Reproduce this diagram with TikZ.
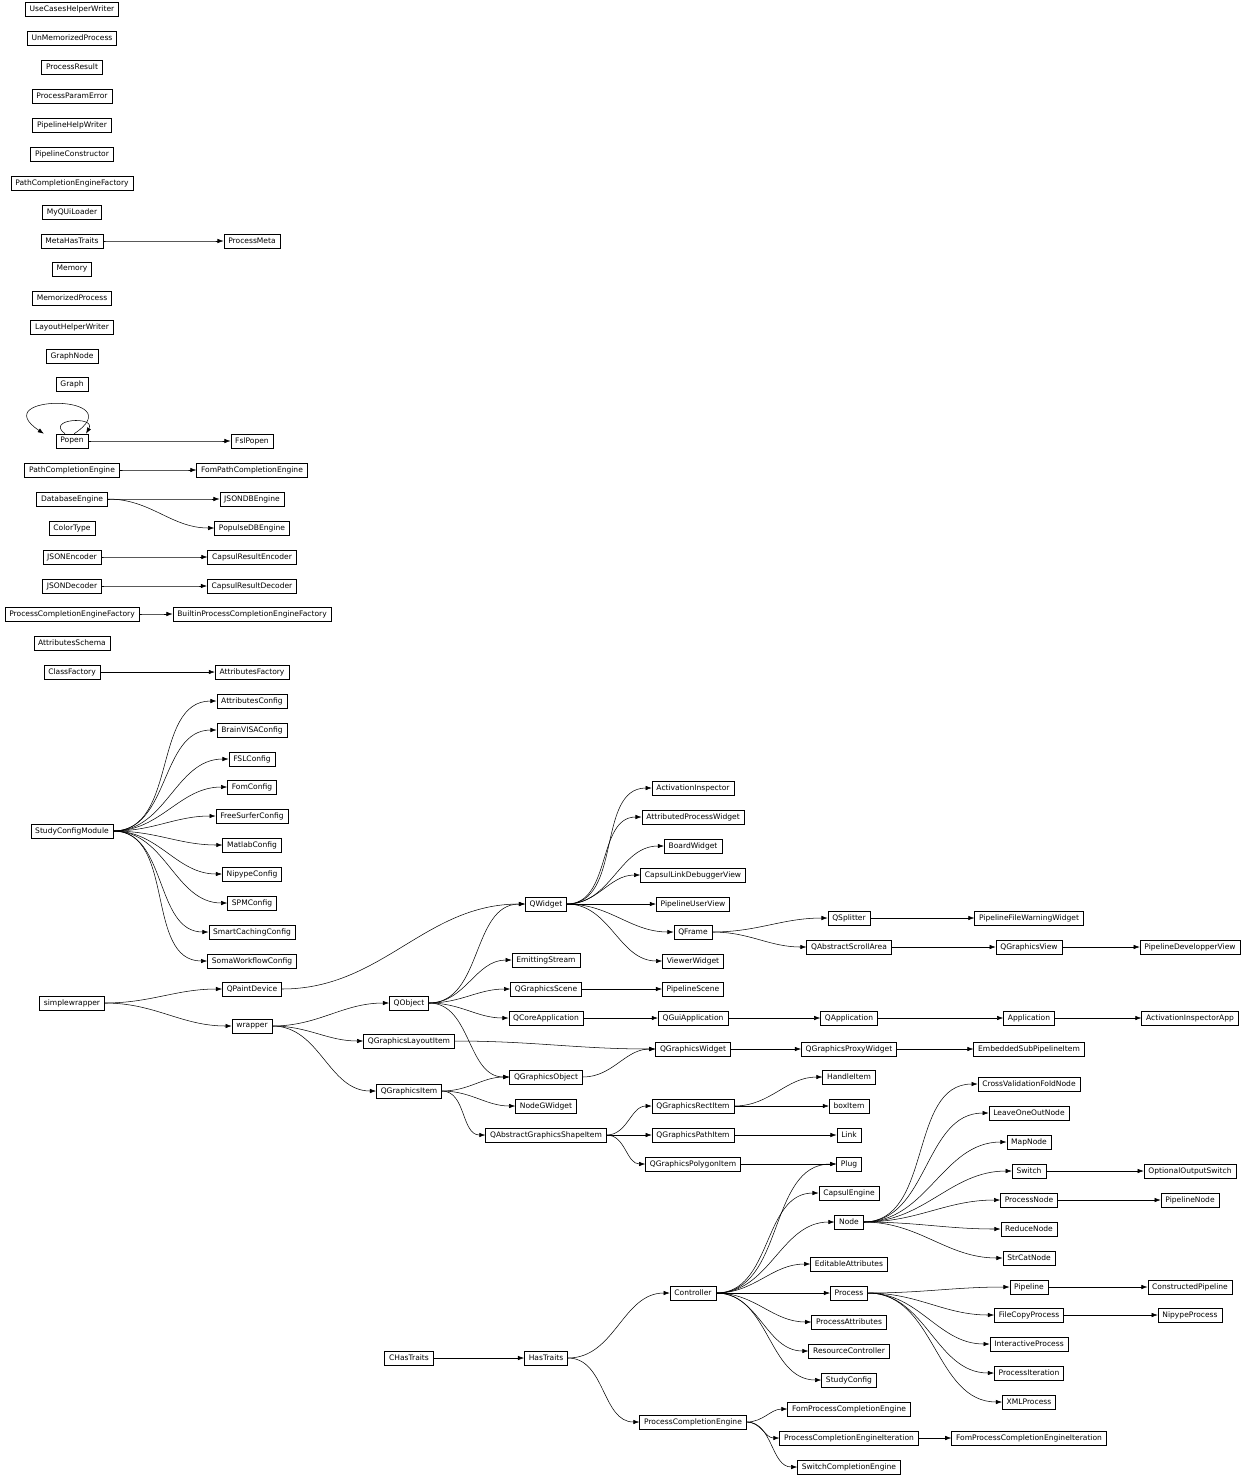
\documentclass[tikz,border=0pt]{standalone}
\usepackage{fontspec}
\setsansfont{DejaVu Sans}
\usetikzlibrary{arrows.meta}
\tikzset{
  cls/.style={draw, line width=0.3pt, fill=white, font=\fontsize{4.3}{5}\sffamily, minimum height=8pt, inner xsep=2.5pt, inner ysep=0pt},
  inh/.style={-{Latex[length=3.5pt,width=2.5pt]}, line width=0.3pt, out=0, in=180}
}
\begin{document}
\begin{tikzpicture}[x=0.02cm, y=-0.02cm]
    \useasboundingbox (0,0) rectangle (1248,1478);

    % standalone classes on the left
    \node[cls] (usecases) at (72,9) {UseCasesHelperWriter};
    \node[cls] (unmemo) at (72,38) {UnMemorizedProcess};
    \node[cls] (presult) at (72,67) {ProcessResult};
    \node[cls] (pparam) at (72,96) {ProcessParamError};
    \node[cls] (phelp) at (72,125) {PipelineHelpWriter};
    \node[cls] (pcons) at (72,154) {PipelineConstructor};
    \node[cls] (pcefac) at (72,183) {PathCompletionEngineFactory};
    \node[cls] (myqui) at (72,212) {MyQUiLoader};
    \node[cls] (metahas) at (72,241) {MetaHasTraits};
    \node[cls] (memory) at (72,269) {Memory};
    \node[cls] (memo) at (72,298) {MemorizedProcess};
    \node[cls] (layout) at (72,327) {LayoutHelperWriter};
    \node[cls] (gnode) at (72,356) {GraphNode};
    \node[cls] (graph) at (72,384) {Graph};
    \node[cls] (popen) at (72,441) {Popen};
    \node[cls] (pce) at (72,470) {PathCompletionEngine};
    \node[cls] (dbe) at (72,499) {DatabaseEngine};
    \node[cls] (color) at (72,528) {ColorType};
    \node[cls] (jenc) at (72,557) {JSONEncoder};
    \node[cls] (jdec) at (72,586) {JSONDecoder};
    \node[cls] (pcefactory) at (72,614) {ProcessCompletionEngineFactory};
    \node[cls] (aschema) at (72,643) {AttributesSchema};
    \node[cls] (cfactory) at (72,672) {ClassFactory};
    \node[cls] (scmod) at (72,831) {StudyConfigModule};
    \node[cls] (simple) at (72,1003) {simplewrapper};

    \node[cls] (pmeta) at (252,241) {ProcessMeta};
    \node[cls] (fslpopen) at (252,441) {FslPopen};
    \node[cls] (fompce) at (252,470) {FomPathCompletionEngine};
    \node[cls] (jsondb) at (252,499) {JSONDBEngine};
    \node[cls] (populse) at (252,528) {PopulseDBEngine};
    \node[cls] (cre) at (252,557) {CapsulResultEncoder};
    \node[cls] (crd) at (252,586) {CapsulResultDecoder};
    \node[cls] (builtin) at (252,614) {BuiltinProcessCompletionEngineFactory};
    \node[cls] (afactory) at (252,672) {AttributesFactory};

    \node[cls] (c1) at (252,701) {AttributesConfig};
    \node[cls] (c2) at (252,730) {BrainVISAConfig};
    \node[cls] (c3) at (252,759) {FSLConfig};
    \node[cls] (c4) at (252,787) {FomConfig};
    \node[cls] (c5) at (252,816) {FreeSurferConfig};
    \node[cls] (c6) at (252,845) {MatlabConfig};
    \node[cls] (c7) at (252,874) {NipypeConfig};
    \node[cls] (c8) at (252,903) {SPMConfig};
    \node[cls] (c9) at (252,932) {SmartCachingConfig};
    \node[cls] (c10) at (252,961) {SomaWorkflowConfig};

    \node[cls] (qpaint) at (252,989) {QPaintDevice};
    \node[cls] (wrapper) at (252,1026) {wrapper};

    % Qt part
    \node[cls] (qobject) at (409,1003) {QObject};
    \node[cls] (qgli) at (409,1041) {QGraphicsLayoutItem};
    \node[cls] (qgitem) at (409,1091) {QGraphicsItem};
    \node[cls] (chas) at (409,1358) {CHasTraits};

    \node[cls] (qwidget) at (546,904) {QWidget};
    \node[cls] (emit) at (546,960) {EmittingStream};
    \node[cls] (qgscene) at (546,989) {QGraphicsScene};
    \node[cls] (qcore) at (546,1018) {QCoreApplication};
    \node[cls] (qgobj) at (546,1077) {QGraphicsObject};
    \node[cls] (nodeg) at (546,1106) {NodeGWidget};
    \node[cls] (qags) at (546,1135) {QAbstractGraphicsShapeItem};
    \node[cls] (hastraits) at (546,1358) {HasTraits};

    \node[cls] (actinsp) at (693,788) {ActivationInspector};
    \node[cls] (apw) at (693,817) {AttributedProcessWidget};
    \node[cls] (board) at (693,846) {BoardWidget};
    \node[cls] (cldv) at (693,875) {CapsulLinkDebuggerView};
    \node[cls] (puv) at (693,904) {PipelineUserView};
    \node[cls] (qframe) at (693,932) {QFrame};
    \node[cls] (viewer) at (693,961) {ViewerWidget};
    \node[cls] (pscene) at (693,989) {PipelineScene};
    \node[cls] (qgui) at (693,1018) {QGuiApplication};
    \node[cls] (qgwidget) at (693,1049) {QGraphicsWidget};
    \node[cls] (qgrect) at (693,1106) {QGraphicsRectItem};
    \node[cls] (qgpath) at (693,1135) {QGraphicsPathItem};
    \node[cls] (qgpoly) at (693,1164) {QGraphicsPolygonItem};
    \node[cls] (controller) at (693,1293) {Controller};
    \node[cls] (pceng) at (693,1422) {ProcessCompletionEngine};

    \node[cls] (qsplit) at (849,918) {QSplitter};
    \node[cls] (qasa) at (849,947) {QAbstractScrollArea};
    \node[cls] (qapp) at (849,1018) {QApplication};
    \node[cls] (qgproxy) at (849,1049) {QGraphicsProxyWidget};
    \node[cls] (handle) at (849,1077) {HandleItem};
    \node[cls] (boxitem) at (849,1106) {boxItem};
    \node[cls] (link) at (849,1135) {Link};
    \node[cls] (plug) at (849,1164) {Plug};
    \node[cls] (capsul) at (849,1193) {CapsulEngine};
    \node[cls] (node) at (849,1222) {Node};
    \node[cls] (editable) at (849,1264) {EditableAttributes};
    \node[cls] (process) at (849,1293) {Process};
    \node[cls] (pattr) at (849,1322) {ProcessAttributes};
    \node[cls] (resctl) at (849,1351) {ResourceController};
    \node[cls] (studycfg) at (849,1380) {StudyConfig};
    \node[cls] (fompceng) at (849,1409) {FomProcessCompletionEngine};
    \node[cls] (pcei) at (849,1438) {ProcessCompletionEngineIteration};
    \node[cls] (switchce) at (849,1467) {SwitchCompletionEngine};

    \node[cls] (pfww) at (1029,918) {PipelineFileWarningWidget};
    \node[cls] (qgview) at (1029,947) {QGraphicsView};
    \node[cls] (application) at (1029,1018) {Application};
    \node[cls] (esp) at (1029,1049) {EmbeddedSubPipelineItem};
    \node[cls] (cvfn) at (1029,1084) {CrossValidationFoldNode};
    \node[cls] (loon) at (1029,1113) {LeaveOneOutNode};
    \node[cls] (mapnode) at (1029,1142) {MapNode};
    \node[cls] (switch) at (1029,1171) {Switch};
    \node[cls] (pnode) at (1029,1200) {ProcessNode};
    \node[cls] (reduce) at (1029,1229) {ReduceNode};
    \node[cls] (strcat) at (1029,1258) {StrCatNode};
    \node[cls] (pipeline) at (1029,1287) {Pipeline};
    \node[cls] (fcp) at (1029,1315) {FileCopyProcess};
    \node[cls] (interactive) at (1029,1344) {InteractiveProcess};
    \node[cls] (piter) at (1029,1373) {ProcessIteration};
    \node[cls] (xml) at (1029,1402) {XMLProcess};
    \node[cls] (fompcei) at (1029,1438) {FomProcessCompletionEngineIteration};

    \node[cls] (pdv) at (1190,947) {PipelineDevelopperView};
    \node[cls] (aiapp) at (1190,1018) {ActivationInspectorApp};
    \node[cls] (oos) at (1190,1171) {OptionalOutputSwitch};
    \node[cls] (pipenode) at (1190,1200) {PipelineNode};
    \node[cls] (cpipe) at (1190,1287) {ConstructedPipeline};
    \node[cls] (nipype) at (1190,1315) {NipypeProcess};

    % inheritance
    \draw[inh] (metahas) to (pmeta);
    \draw[-{Latex[length=3.5pt,width=2.5pt]}, line width=0.3pt] ([xshift=-8]popen.north east) .. controls +(60,-40) and +(-60,-40) .. ([xshift=-16]popen.north);
    \draw[-{Latex[length=3.5pt,width=2.5pt]}, line width=0.3pt] ([xshift=-4]popen.north) .. controls +(-20,-15) and +(10,-18) .. ([xshift=8]popen.north);
    \draw[inh] (popen) to (fslpopen);
    \draw[inh] (pce) to (fompce);
    \draw[inh] (dbe) to (jsondb);
    \draw[inh] (dbe) to (populse);
    \draw[inh] (jenc) to (cre);
    \draw[inh] (jdec) to (crd);
    \draw[inh] (pcefactory) to (builtin);
    \draw[inh] (cfactory) to (afactory);
    \foreach \c in {c1,c2,c3,c4,c5,c6,c7,c8,c9,c10}
        \draw[inh] (scmod) to (\c);

    \draw[inh] (simple) to (qpaint);
    \draw[inh] (simple) to (wrapper);
    \draw[inh] (qpaint) to (qwidget);
    \draw[inh] (wrapper) to (qobject);
    \draw[inh] (wrapper) to (qgli);
    \draw[inh] (wrapper) to (qgitem);
    \foreach \c in {qwidget,emit,qgscene,qcore,qgobj}
        \draw[inh] (qobject) to (\c);
    \draw[inh] (qgli) to (qgwidget);
    \foreach \c in {qgobj,nodeg,qags}
        \draw[inh] (qgitem) to (\c);
    \draw[inh] (qgobj) to (qgwidget);
    \foreach \c in {actinsp,apw,board,cldv,puv,qframe,viewer}
        \draw[inh] (qwidget) to (\c);
    \draw[inh] (qframe) to (qsplit);
    \draw[inh] (qframe) to (qasa);
    \draw[inh] (qsplit) to (pfww);
    \draw[inh] (qasa) to (qgview);
    \draw[inh] (qgview) to (pdv);
    \draw[inh] (qgscene) to (pscene);
    \draw[inh] (qcore) to (qgui);
    \draw[inh] (qgui) to (qapp);
    \draw[inh] (qapp) to (application);
    \draw[inh] (application) to (aiapp);
    \draw[inh] (qgwidget) to (qgproxy);
    \draw[inh] (qgproxy) to (esp);
    \foreach \c in {qgrect,qgpath,qgpoly}
        \draw[inh] (qags) to (\c);
    \draw[inh] (qgrect) to (handle);
    \draw[inh] (qgrect) to (boxitem);
    \draw[inh] (qgpath) to (link);
    \draw[inh] (qgpoly) to (plug);

    % traits part
    \draw[inh] (chas) to (hastraits);
    \draw[inh] (hastraits) to (controller);
    \draw[inh] (hastraits) to (pceng);
    \foreach \c in {plug,capsul,node,editable,process,pattr,resctl,studycfg}
        \draw[inh] (controller) to (\c);
    \foreach \c in {cvfn,loon,mapnode,switch,pnode,reduce,strcat}
        \draw[inh] (node) to (\c);
    \draw[inh] (switch) to (oos);
    \draw[inh] (pnode) to (pipenode);
    \foreach \c in {pipeline,fcp,interactive,piter,xml}
        \draw[inh] (process) to (\c);
    \draw[inh] (pipeline) to (cpipe);
    \draw[inh] (fcp) to (nipype);
    \foreach \c in {fompceng,pcei,switchce}
        \draw[inh] (pceng) to (\c);
    \draw[inh] (pcei) to (fompcei);
\end{tikzpicture}
\end{document}
